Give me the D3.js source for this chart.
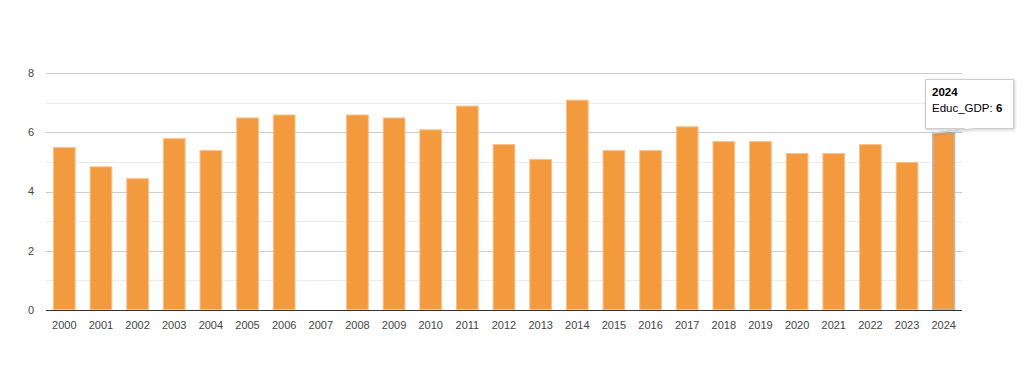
<!DOCTYPE html>
<html>
<head>
<meta charset="utf-8">
<script src="https://cdn.jsdelivr.net/npm/d3@7"></script>
<style>
  body { margin: 0; background: #fff; }
  svg { display: block; font-family: "Liberation Sans", Arial, sans-serif; }
</style>
</head>
<body>
<div id="chart"></div>
<script>
const years = ["2000", "2001", "2002", "2003", "2004", "2005", "2006", "2007", "2008", "2009",
  "2010", "2011", "2012", "2013", "2014", "2015", "2016", "2017", "2018", "2019",
  "2020", "2021", "2022", "2023", "2024"];
const educGdp = [5.5, 4.85, 4.45, 5.8, 5.4, 6.5, 6.6, null, 6.6, 6.5,
  6.1, 6.9, 5.6, 5.1, 7.1, 5.4, 5.4, 6.2, 5.7, 5.7,
  5.3, 5.3, 5.6, 5.0, 6];
const yTicks = [0, 2, 4, 6, 8];
const yMinor = [1, 3, 5, 7];
const hovered = "2024";

const width = 1024, height = 368;
const plot = { left: 46, right: 962, top: 73, bottom: 310 };

const svg = d3.select("#chart").append("svg")
  .attr("width", width)
  .attr("height", height);

const x = d3.scaleBand()
  .domain(years)
  .range([plot.left, plot.right])
  .paddingInner(0.38)
  .paddingOuter(0.19);

const y = d3.scaleLinear()
  .domain([0, 8])
  .range([plot.bottom, plot.top]);

// minor gridlines
svg.append("g")
  .selectAll("line")
  .data(yMinor)
  .join("line")
  .attr("x1", plot.left).attr("x2", plot.right)
  .attr("y1", d => Math.round(y(d)) + 0.5)
  .attr("y2", d => Math.round(y(d)) + 0.5)
  .attr("stroke", "#ebebeb");

// major gridlines
svg.append("g")
  .selectAll("line")
  .data(yTicks.filter(d => d !== 0))
  .join("line")
  .attr("x1", plot.left).attr("x2", plot.right)
  .attr("y1", d => Math.round(y(d)) + 0.5)
  .attr("y2", d => Math.round(y(d)) + 0.5)
  .attr("stroke", "#cccccc");

// y labels
svg.append("g")
  .selectAll("text")
  .data(yTicks)
  .join("text")
  .attr("x", 34)
  .attr("y", d => y(d))
  .attr("dy", "0.35em")
  .attr("text-anchor", "end")
  .attr("font-size", 11)
  .attr("fill", "#444")
  .text(d => d);

// bars
const rows = years.map((yr, i) => ({ year: yr, value: educGdp[i] }))
  .filter(d => d.value != null);

svg.append("g")
  .selectAll("rect")
  .data(rows)
  .join("rect")
  .attr("x", d => x(d.year) + 0.5)
  .attr("y", d => y(d.value) + 0.5)
  .attr("width", x.bandwidth() - 1)
  .attr("height", d => y(0) - y(d.value) - 1)
  .attr("fill", "#f39a3f")
  .attr("stroke", d => d.year === hovered ? "#b8b8b8" : "#f7c28c")
  .attr("stroke-width", d => d.year === hovered ? 1.5 : 1);

// baseline
svg.append("line")
  .attr("x1", plot.left).attr("x2", plot.right)
  .attr("y1", plot.bottom + 0.5).attr("y2", plot.bottom + 0.5)
  .attr("stroke", "#333");

// x labels
svg.append("g")
  .selectAll("text")
  .data(years)
  .join("text")
  .attr("x", d => x(d) + x.bandwidth() / 2)
  .attr("y", 329)
  .attr("text-anchor", "middle")
  .attr("font-size", 11)
  .attr("fill", "#444")
  .text(d => d);

// tooltip for the hovered bar
const hv = educGdp[years.indexOf(hovered)];
const tipX = x(hovered) + x.bandwidth() / 2;
const tipY = y(hv);

const defs = svg.append("defs");
const shadow = defs.append("filter").attr("id", "shadow")
  .attr("x", "-20%").attr("y", "-20%").attr("width", "150%").attr("height", "160%");
shadow.append("feDropShadow")
  .attr("dx", 1).attr("dy", 1).attr("stdDeviation", 1.5)
  .attr("flood-color", "#000").attr("flood-opacity", 0.2);

const bx = 925.5, by = 79.5, bw = 88, bh = 49;
const tail = `M${bx},${by} H${bx + bw} V${by + bh} H${bx + 49} L${tipX - 12},${tipY + 1} L${bx + 39},${by + bh} H${bx} Z`;
svg.append("path")
  .attr("d", tail)
  .attr("fill", "#fff")
  .attr("stroke", "#cccccc")
  .attr("filter", "url(#shadow)");

svg.append("text")
  .attr("x", 932).attr("y", 96)
  .attr("font-size", 11.5)
  .attr("font-weight", "bold")
  .attr("fill", "#000")
  .text(hovered);

const line2 = svg.append("text")
  .attr("x", 932).attr("y", 112)
  .attr("font-size", 11.5)
  .attr("fill", "#000");
line2.append("tspan").text("Educ_GDP: ");
line2.append("tspan").attr("font-weight", "bold").text(hv);
</script>
</body>
</html>
